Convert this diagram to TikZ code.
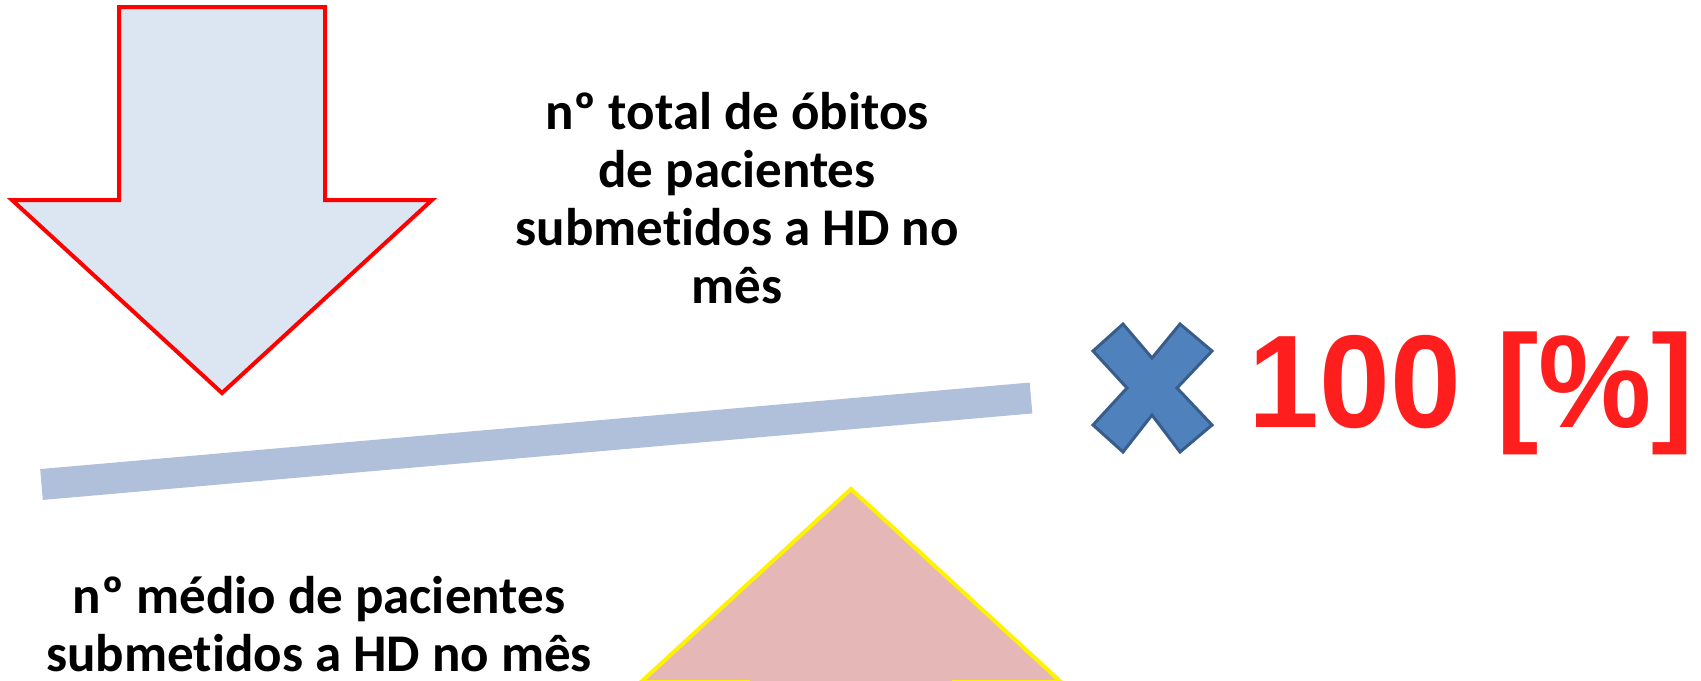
\documentclass[tikz,border=0pt]{standalone}
\usepackage{fontspec}
\setmainfont{Carlito}[Ligatures=NoCommon]
\setsansfont{Liberation Sans}

\definecolor{arrowblue}{RGB}{220,230,242}
\definecolor{arrowpink}{RGB}{229,184,183}
\definecolor{barblue}{RGB}{176,192,219}
\definecolor{crossfill}{RGB}{79,129,189}
\definecolor{crossline}{RGB}{56,93,138}
\definecolor{pctred}{RGB}{255,30,30}

\begin{document}
\begin{tikzpicture}[%
    x=0.5pt, y=-0.5pt,
    fractext/.style={font=\bfseries\fontsize{26.5}{29}\selectfont, align=center, inner sep=0pt},
    pcttext/.style={font=\sffamily\bfseries\fontsize{66}{72}\selectfont, text=pctred, inner sep=0pt},
    fracbar/.style={draw=barblue, line width=15.5pt},
    ]
    \useasboundingbox (0,0) rectangle (1701,680);
    \begin{scope}
    \clip (0,0) rectangle (1701,680);
    \filldraw [fill=arrowblue, draw=red, line width=2pt] (119,7) -- (325,7) -- (325,200) -- (432,200) -- (222,393) -- (12,200) -- (119,200) -- cycle;
    \filldraw [fill=arrowpink, draw=yellow, line width=2pt] (851,489) -- (1061,682) -- (954,682) -- (954,900) -- (748,900) -- (748,682) -- (641,682) -- cycle;
    \end{scope}
    \coordinate (barL) at (41.5,484.5);
    \coordinate (barR) at (1031,398);
    \draw [fracbar] (barL) -- (barR);
    \filldraw [fill=crossfill, draw=crossline, line width=1.5pt] (1123,324) -- (1152,358) -- (1180,324) -- (1212,351) -- (1177,388) -- (1212,425) -- (1180,452) -- (1152,415) -- (1123,452) -- (1093,425) -- (1127,388) -- (1093,351) -- cycle;
    \node [fractext, anchor=base] (num) at (737,303) {nº total de óbitos\\de pacientes\\submetidos a HD no\\mês};
    \node [fractext, anchor=base] (den) at (319,671) {nº médio de pacientes\\submetidos a HD no mês};
    \node [pcttext, anchor=base west] (pct) at (1248,427) {\scalebox{0.965}[1]{100 [\%]}};
\end{tikzpicture}
\end{document}
